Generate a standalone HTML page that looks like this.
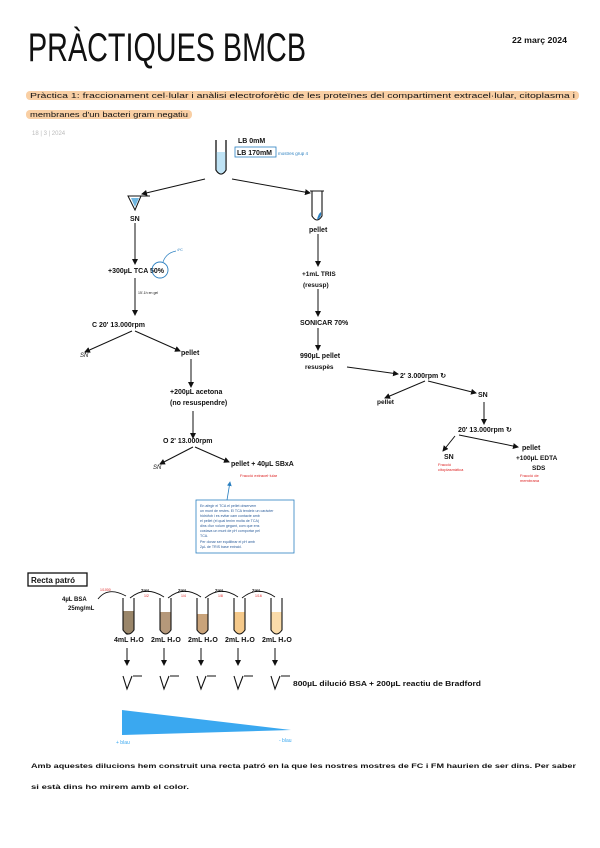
<!DOCTYPE html>
<html><head><meta charset="utf-8"><style>
html,body{margin:0;padding:0;background:#fff;}
svg{display:block;font-family:"Liberation Sans",sans-serif;}
text{fill:#111;}
</style></head><body>
<svg width="600" height="848" viewBox="0 0 600 848" xmlns="http://www.w3.org/2000/svg">
<defs><marker id="a" markerWidth="6" markerHeight="6" refX="5" refY="3" orient="auto"><path d="M0,0 L6,3 L0,6 z" fill="#111"/></marker>
<marker id="ab" markerWidth="6" markerHeight="6" refX="5" refY="3" orient="auto"><path d="M0,0 L6,3 L0,6 z" fill="#2a7fc0"/></marker></defs>
<text x="28" y="61" font-size="40" textLength="278" lengthAdjust="spacingAndGlyphs">PRÀCTIQUES BMCB</text>
<text x="512" y="43" font-size="8" font-weight="bold" textLength="55" lengthAdjust="spacingAndGlyphs">22 març 2024</text>
<rect x="26" y="91" width="553" height="9" rx="4" fill="#f9cfa4"/>
<rect x="26" y="110" width="166" height="9" rx="4" fill="#f9cfa4"/>
<text x="30" y="98" font-size="7.5" textLength="545" lengthAdjust="spacingAndGlyphs">Pràctica 1: fraccionament cel·lular i anàlisi electroforètic de les proteïnes del compartiment extracel·lular, citoplasma i</text>
<text x="30" y="117" font-size="7.5" textLength="158" lengthAdjust="spacingAndGlyphs">membranes d'un bacteri gram negatiu</text>
<text x="32" y="135" font-size="6" fill="#bbb" style="fill:#bbb">18 | 3 | 2024</text>
<!-- top tube -->
<path d="M216,140 L216,170 Q221,178 226,170 L226,140" fill="none" stroke="#111" stroke-width="1.3"/>
<path d="M216.6,152 L225.4,152 L225.4,170 Q221,177 216.6,170z" fill="#bfe3f5"/>
<text x="238" y="143" font-size="7" font-weight="bold">LB 0mM</text>
<rect x="235" y="147" width="41" height="10" fill="none" stroke="#2a7fc0" stroke-width="0.8"/>
<text x="237" y="155" font-size="7" font-weight="bold">LB 170mM</text>
<text x="278" y="155" font-size="4.5" style="fill:#2a7fc0">mostres grup 4</text>
<g stroke="#111" stroke-width="1" fill="none" marker-end="url(#a)">
<line x1="205" y1="179" x2="142" y2="194"/>
<line x1="232" y1="179" x2="310" y2="193"/>
<line x1="135" y1="223" x2="135" y2="264"/>
<line x1="135" y1="278" x2="135" y2="315"/>
<line x1="132" y1="331" x2="85" y2="352"/>
<line x1="135" y1="331" x2="180" y2="351"/>
<line x1="191" y1="359" x2="191" y2="387"/>
<line x1="193" y1="411" x2="193" y2="438"/>
<line x1="193" y1="447" x2="160" y2="464"/>
<line x1="195" y1="447" x2="229" y2="462"/>
<line x1="318" y1="234" x2="318" y2="266"/>
<line x1="318" y1="289" x2="318" y2="316"/>
<line x1="318" y1="328" x2="318" y2="350"/>
<line x1="347" y1="367" x2="398" y2="374"/>
<line x1="425" y1="381" x2="385" y2="398"/>
<line x1="428" y1="381" x2="476" y2="393"/>
<line x1="484" y1="402" x2="484" y2="424"/>
<line x1="455" y1="436" x2="443" y2="451"/>
<line x1="459" y1="435" x2="518" y2="447"/>
</g>
<!-- left branch -->
<path d="M128,196 L141,196 L135,210z M141,196 L150,196" fill="none" stroke="#111" stroke-width="1"/>
<path d="M131,198 L139,198 L135,207z" fill="#6fb6e0"/>
<text x="130" y="221" font-size="7" font-weight="bold">SN</text>
<text x="108" y="273" font-size="7" font-weight="bold">+300µL TCA 50%</text>
<circle cx="160" cy="270" r="8" fill="none" stroke="#2a7fc0" stroke-width="0.9"/>
<path d="M163,262 Q166,253 176,251" fill="none" stroke="#2a7fc0" stroke-width="0.7"/>
<text x="177" y="251" font-size="3.5" style="fill:#2a7fc0">4ºC</text>
<text x="138" y="294" font-size="3.5">15'-1h en gel</text>
<text x="92" y="327" font-size="7" font-weight="bold">C 20' 13.000rpm</text>
<text x="80" y="357" font-size="6" font-style="italic">SN</text>
<text x="181" y="355" font-size="7" font-weight="bold">pellet</text>
<text x="170" y="394" font-size="7" font-weight="bold">+200µL acetona</text>
<text x="170" y="405" font-size="7" font-weight="bold">(no resuspendre)</text>
<text x="163" y="443" font-size="7" font-weight="bold">O 2' 13.000rpm</text>
<text x="153" y="469" font-size="6" font-style="italic">SN</text>
<text x="231" y="466" font-size="7" font-weight="bold">pellet + 40µL SBxA</text>
<text x="240" y="477" font-size="4" style="fill:#d22">Fracció extracel·lular</text>
<line x1="227" y1="500" x2="230" y2="482" stroke="#2a7fc0" stroke-width="0.8" marker-end="url(#ab)"/>
<rect x="196" y="500" width="98" height="53" fill="none" stroke="#2a7fc0" stroke-width="0.8"/>
<g font-size="3.6" style="fill:#2a5c9a">
<text x="200" y="507" style="fill:#2a5c9a">En afegir el TCA el pellet observem</text>
<text x="200" y="512" style="fill:#2a5c9a">un munt de restes. El TCA tendeix un caràcter</text>
<text x="200" y="517" style="fill:#2a5c9a">hidròfob i es evitar cam contacte amb</text>
<text x="200" y="522" style="fill:#2a5c9a">el pellet (el qual tenim molta de TCA)</text>
<text x="200" y="527" style="fill:#2a5c9a">dins d'un volum gegant, com que ens</text>
<text x="200" y="532" style="fill:#2a5c9a">costava un munt de pH comportar pel</text>
<text x="200" y="537" style="fill:#2a5c9a">TCA.</text>
<text x="200" y="543" style="fill:#2a5c9a">Per donar ser equilibrar el pH amb</text>
<text x="200" y="548" style="fill:#2a5c9a">2µL de TRIS base extraid.</text>
</g>
<!-- right branch -->
<path d="M312,191 L312,216 Q317,224 322,216 L322,191 M310,191 L324,191" fill="none" stroke="#111" stroke-width="1.1"/>
<path d="M317,220 Q322,217 321,212 Q318,214 317,220z" fill="#2a7fc0"/>
<text x="309" y="232" font-size="7" font-weight="bold">pellet</text>
<text x="302" y="276" font-size="6.5" font-weight="bold">+1mL TRIS</text>
<text x="303" y="287" font-size="6.5" font-weight="bold">(resusp)</text>
<text x="300" y="325" font-size="7" font-weight="bold">SONICAR 70%</text>
<text x="300" y="358" font-size="7" font-weight="bold">990µL pellet</text>
<text x="305" y="369" font-size="6.5" font-weight="bold">resuspès</text>
<text x="400" y="378" font-size="7" font-weight="bold">2' 3.000rpm ↻</text>
<text x="377" y="404" font-size="6.5" font-weight="bold">pellet</text>
<text x="478" y="397" font-size="7" font-weight="bold">SN</text>
<text x="458" y="432" font-size="7" font-weight="bold">20' 13.000rpm ↻</text>
<text x="444" y="459" font-size="7" font-weight="bold">SN</text>
<text x="438" y="466" font-size="4" style="fill:#d22">Fracció</text>
<text x="438" y="471" font-size="4" style="fill:#d22">citoplasmàtica</text>
<text x="522" y="450" font-size="7" font-weight="bold">pellet</text>
<text x="516" y="460" font-size="6.5" font-weight="bold">+100µL EDTA</text>
<text x="532" y="470" font-size="6.5" font-weight="bold">SDS</text>
<text x="520" y="477" font-size="4" style="fill:#d22">Fracció de</text>
<text x="520" y="482" font-size="4" style="fill:#d22">membrana</text>
<!-- recta patró -->
<rect x="28" y="573" width="59" height="13" fill="none" stroke="#111" stroke-width="1.3"/>
<text x="31" y="583" font-size="8" font-weight="bold">Recta patró</text>
<text x="62" y="601" font-size="6" font-weight="bold">4µL BSA</text>
<text x="68" y="610" font-size="6" font-weight="bold">25mg/mL</text>
<g fill="none" stroke="#111" stroke-width="0.9">
<path d="M98,599 Q108,586 126,596"/>
<path d="M130,598 Q146,585 164,597"/>
<path d="M168,598 Q184,585 201,597"/>
<path d="M205,598 Q221,585 238,597"/>
<path d="M242,598 Q258,585 275,597"/>
</g>
<text x="100" y="591" font-size="3.5" style="fill:#d22">1/1000</text>
<text x="141" y="592" font-size="4.5" font-weight="bold">2mL</text><text x="144" y="597" font-size="3.5" style="fill:#d22">1/2</text>
<text x="178" y="592" font-size="4.5" font-weight="bold">2mL</text><text x="181" y="597" font-size="3.5" style="fill:#d22">1/4</text>
<text x="215" y="592" font-size="4.5" font-weight="bold">2mL</text><text x="218" y="597" font-size="3.5" style="fill:#d22">1/8</text>
<text x="252" y="592" font-size="4.5" font-weight="bold">2mL</text><text x="255" y="597" font-size="3.5" style="fill:#d22">1/16</text>
<g stroke="#111" stroke-width="1.1">
<path d="M125,611 L125,631 Q126,636 130,633" fill="none"/>
</g>
<g>
<path d="M123,611 L134,611 L134,630 Q128.5,638 123,630z" fill="#9a866a"/>
<path d="M160,612 L171,612 L171,630 Q165.5,638 160,630z" fill="#b5987a"/>
<path d="M197,614 L208,614 L208,630 Q202.5,638 197,630z" fill="#c9a37a"/>
<path d="M234,612 L245,612 L245,630 Q239.5,638 234,630z" fill="#f5c98a"/>
<path d="M271,612 L282,612 L282,630 Q276.5,638 271,630z" fill="#fbdcaa"/>
</g>
<g fill="none" stroke="#111" stroke-width="1.1">
<path d="M123,598 L123,630 Q128.5,638 134,630 L134,598"/>
<path d="M160,598 L160,630 Q165.5,638 171,630 L171,598"/>
<path d="M197,598 L197,630 Q202.5,638 208,630 L208,598"/>
<path d="M234,598 L234,630 Q239.5,638 245,630 L245,598"/>
<path d="M271,598 L271,630 Q276.5,638 282,630 L282,598"/>
</g>
<g font-size="7" font-weight="bold">
<text x="114" y="642">4mL H₂O</text>
<text x="151" y="642">2mL H₂O</text>
<text x="188" y="642">2mL H₂O</text>
<text x="225" y="642">2mL H₂O</text>
<text x="262" y="642">2mL H₂O</text>
</g>
<g stroke="#111" stroke-width="1" marker-end="url(#a)">
<line x1="127" y1="648" x2="127" y2="665"/>
<line x1="164" y1="648" x2="164" y2="665"/>
<line x1="201" y1="648" x2="201" y2="665"/>
<line x1="238" y1="648" x2="238" y2="665"/>
<line x1="275" y1="648" x2="275" y2="665"/>
</g>
<g fill="none" stroke="#111" stroke-width="1.1">
<path d="M123,676 L127,689 L132,676 M133,676 L142,676"/>
<path d="M160,676 L164,689 L169,676 M170,676 L179,676"/>
<path d="M197,676 L201,689 L206,676 M207,676 L216,676"/>
<path d="M234,676 L238,689 L243,676 M244,676 L253,676"/>
<path d="M271,676 L275,689 L280,676 M281,676 L290,676"/>
</g>
<text x="293" y="686" font-size="7" font-weight="bold" textLength="188" lengthAdjust="spacingAndGlyphs">800µL dilució BSA + 200µL reactiu de Bradford</text>
<path d="M122,710 L122,735 L291,730z" fill="#3aa8f0"/>
<text x="116" y="744" font-size="5" style="fill:#3aa8f0">+ blau</text>
<text x="279" y="742" font-size="5" style="fill:#3aa8f0">- blau</text>
<text x="31" y="768" font-size="6.5" font-weight="bold" textLength="545" lengthAdjust="spacingAndGlyphs">Amb aquestes dilucions hem construit una recta patró en la que les nostres mostres de FC i FM haurien de ser dins. Per saber</text>
<text x="31" y="789" font-size="6.5" font-weight="bold" textLength="158" lengthAdjust="spacingAndGlyphs">si està dins ho mirem amb el color.</text>
</svg>
</body></html>
